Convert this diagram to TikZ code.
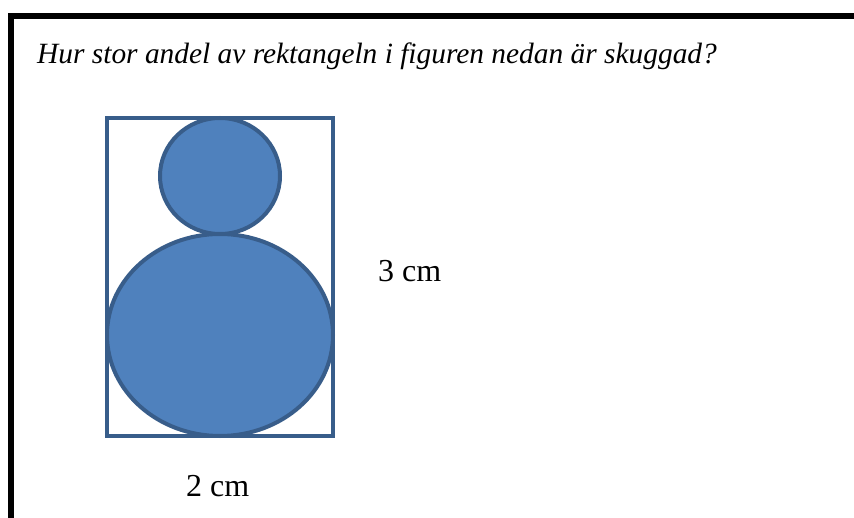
\documentclass[tikz,border=0pt]{standalone}
\usepackage{fontspec}
\setmainfont{Liberation Serif}
\definecolor{shadeblue}{HTML}{4F81BD}
\definecolor{edgeblue}{HTML}{385D8A}
\tikzset{
  figline/.style={draw=edgeblue, line width=4pt},
  figfill/.style={figline, fill=shadeblue},
  measure/.style={font=\fontsize{32}{38}\selectfont, inner sep=0pt}
}
\begin{document}
\begin{tikzpicture}[x=1pt, y=-1pt]
    \useasboundingbox (0,0) rectangle (854,518);
    % frame
    \draw[line width=6pt, line join=miter] (11.3,518) -- (11.3,16.3) -- (854,16.3);
    \node[anchor=base west, inner sep=0pt, font=\fontsize{29.4}{35}\selectfont\itshape] (question) at (37,63.3) {Hur stor andel av rektangeln i figuren nedan är skuggad?};
    
    \draw[figline] (107,118) rectangle (333,436);
    \draw[figfill] (220,335) ellipse [x radius=113, y radius=101];
    \draw[figfill] (220,176) ellipse [x radius=60, y radius=58];
    
    \node[measure, anchor=base west] (height) at (378,281.7) {3 cm};
    \node[measure, anchor=base west] (width) at (186,496) {2 cm};
\end{tikzpicture}
\end{document}
